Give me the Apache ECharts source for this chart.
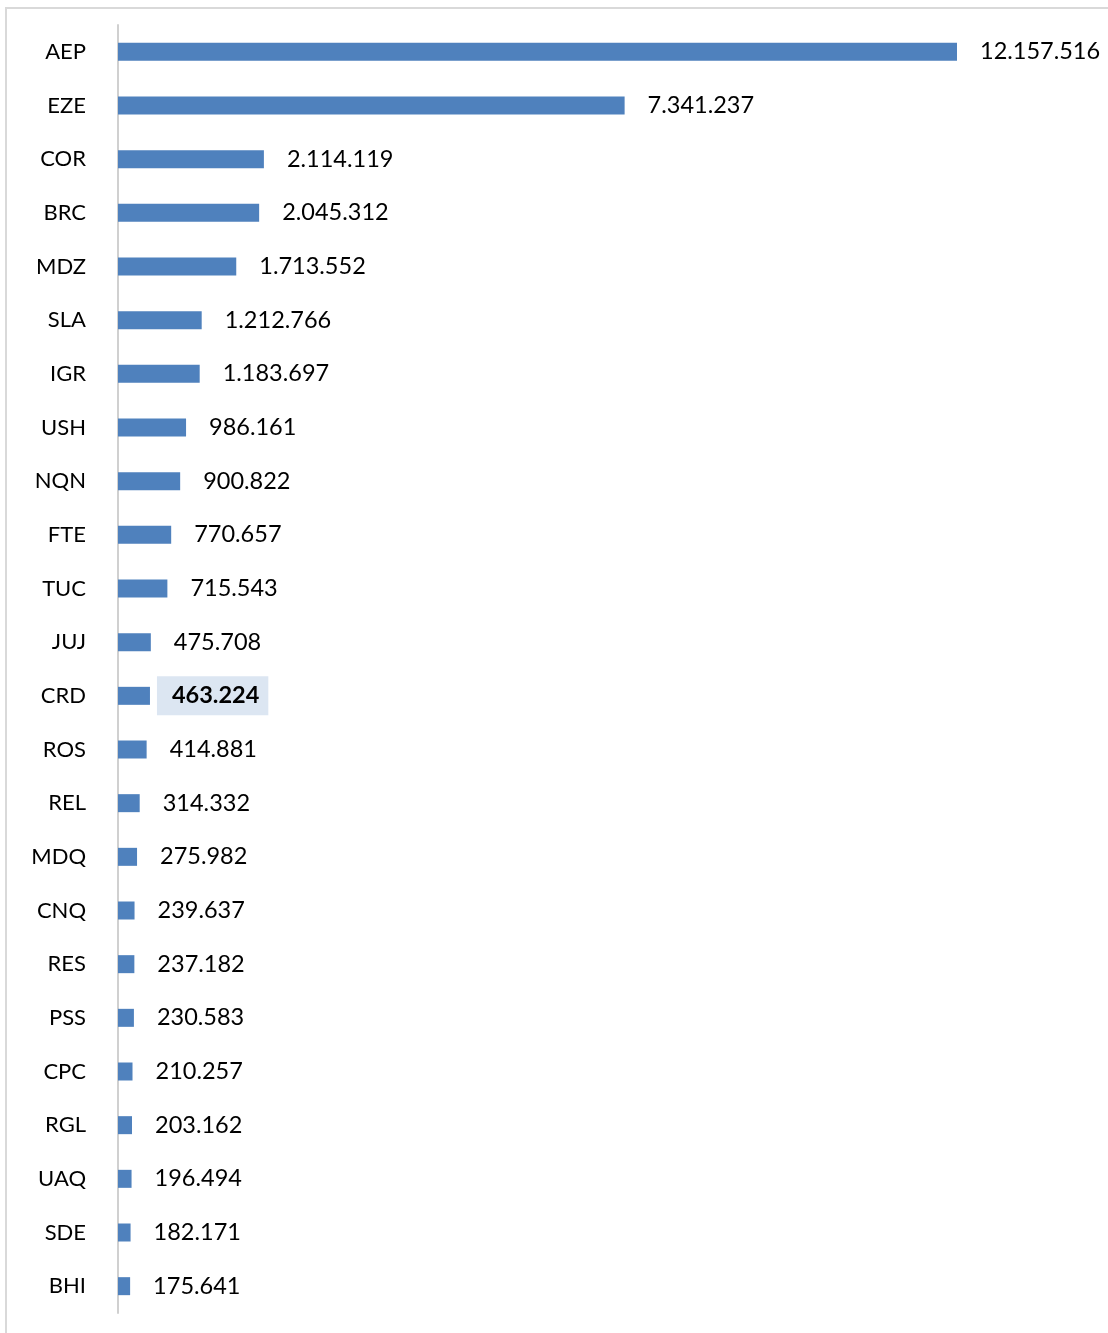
<!DOCTYPE html>
<html>
<head>
<meta charset="utf-8">
<script src="https://cdn.jsdelivr.net/npm/echarts@6/dist/echarts.min.js"></script>
<style>
  html, body { margin: 0; padding: 0; background: #fff; }
  #chart { width: 1108px; height: 1333px; }
</style>
</head>
<body>
<div id="chart"></div>
<script>
// Airport codes, top to bottom
const airports = ['AEP','EZE','COR','BRC','MDZ','SLA','IGR','USH','NQN','FTE','TUC','JUJ','CRD','ROS','REL','MDQ','CNQ','RES','PSS','CPC','RGL','UAQ','SDE','BHI'];
// Passenger counts per airport
const passengers = [12157516,7341237,2114119,2045312,1713552,1212766,1183697,986161,900822,770657,715543,475708,463224,414881,314332,275982,239637,237182,230583,210257,203162,196494,182171,175641];
// Airport whose label is highlighted
const highlighted = 'CRD';

function fmt(n) {
  return String(n).replace(/\B(?=(\d{3})+(?!\d))/g, '.');
}

const barColor = '#4F81BD';
const font = 'Lato, "Open Sans", sans-serif';

const data = airports.map((a, i) => {
  const item = { value: passengers[i] };
  if (a === highlighted) {
    item.label = {
      fontWeight: 'bold',
      backgroundColor: '#DCE6F2',
      padding: [8, 9, 7, 15],
      distance: 7
    };
  }
  return item;
});

const chart = echarts.init(document.getElementById('chart'), null, { renderer: 'canvas' });
chart.setOption({
  animation: false,
  backgroundColor: '#fff',
  graphic: [{
    type: 'rect',
    shape: { x: 6, y: 8, width: 1130, height: 1360 },
    style: { fill: 'none', stroke: '#D9D9D9', lineWidth: 2 },
    silent: true
  }],
  grid: { left: 118, top: 25, width: 839, height: 1288, containLabel: false },
  xAxis: {
    type: 'value',
    min: 0,
    max: passengers[0],
    show: false
  },
  yAxis: {
    type: 'category',
    data: airports,
    inverse: true,
    axisLine: { show: true, lineStyle: { color: '#D0D0D0', width: 2 } },
    axisTick: { show: false },
    axisLabel: { color: '#000', fontSize: 22, fontFamily: font, margin: 32 },
    splitLine: { show: false }
  },
  series: [{
    type: 'bar',
    data: data,
    barWidth: 18,
    itemStyle: { color: barColor },
    label: {
      show: true,
      position: 'right',
      distance: 23,
      color: '#000',
      fontSize: 23.5,
      fontFamily: font,
      formatter: p => fmt(p.value)
    }
  }]
});
</script>
</body>
</html>
